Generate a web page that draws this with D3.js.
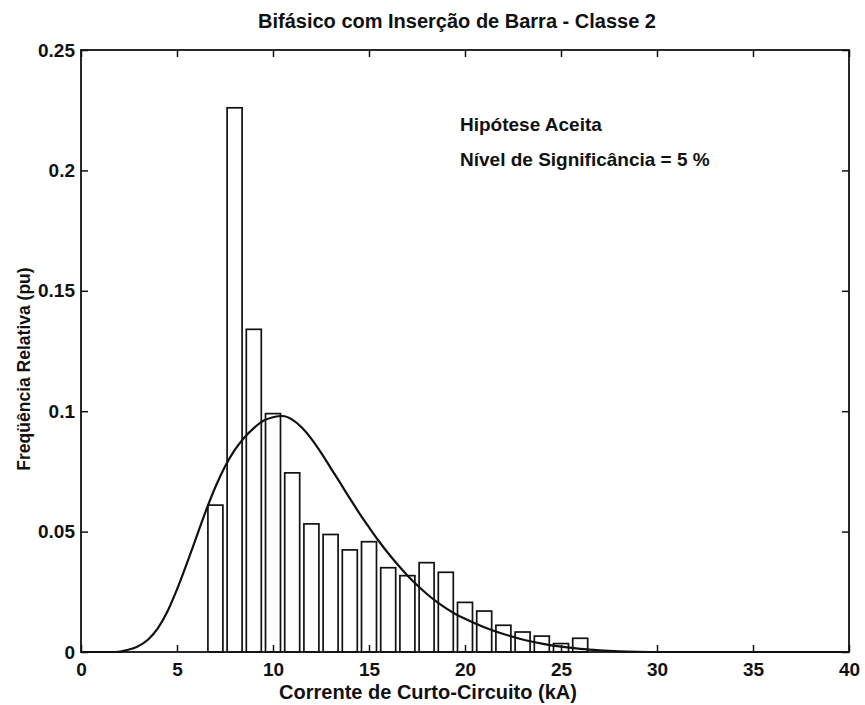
<!DOCTYPE html>
<html lang="pt">
<head>
    <meta charset="UTF-8">
    <title>Bifásico com Inserção de Barra - Classe 2</title>
    <script src="https://d3js.org/d3.v7.min.js"></script>
    <style>
        body { margin: 0; background: #fff; }
        text { font-family: "Liberation Sans", Arial, sans-serif; font-weight: bold; fill: #111; }
    </style>
</head>
<body>
    <div id="chart"></div>

    <script>
        // histograma (centro da classe em kA, frequencia relativa)
        var binCenters = [7, 8, 9, 10, 11, 12, 13, 14, 15, 16, 17, 18, 19, 20, 21, 22, 23, 24, 25, 26];
        var binFreq = [0.061, 0.226, 0.134, 0.099, 0.0744, 0.0532, 0.0488, 0.0424, 0.0458, 0.035,
                       0.0317, 0.0371, 0.0331, 0.0206, 0.017, 0.0111, 0.0083, 0.0066, 0.0035, 0.0057];

        // curva ajustada, lida ponto a ponto do grafico
        var curveX = [0, 1, 1.8, 2.4, 2.9, 3.5, 4, 4.5, 5, 5.5, 6, 6.5, 7, 7.5, 8, 8.5, 9, 9.5, 10, 10.5,
                      11, 11.5, 12, 12.5, 13, 13.5, 14, 14.5, 15, 15.5, 16, 16.5, 17, 17.5, 18, 18.5, 19, 19.5,
                      20, 21, 22, 23, 24, 25, 26, 27, 28, 29, 30, 40];
        var curveY = [0, 0, 0, 0.0008, 0.0021, 0.0052, 0.0098, 0.0168, 0.026, 0.0365, 0.0475, 0.0585, 0.0685, 0.077, 0.0838, 0.089, 0.093, 0.096, 0.0975, 0.098,
                      0.0965, 0.0932, 0.0885, 0.0828, 0.0765, 0.0702, 0.0638, 0.0576, 0.0518, 0.0462, 0.041, 0.0362, 0.0318, 0.0278, 0.0242, 0.021, 0.0182, 0.0158,
                      0.0138, 0.0103, 0.0075, 0.0052, 0.0035, 0.0022, 0.0013, 0.0007, 0.0003, 0.0001, 0, 0];

        var xTicks = [0, 5, 10, 15, 20, 25, 30, 35, 40];
        var yTicks = [0, 0.05, 0.1, 0.15, 0.2, 0.25];
        var yTickLabels = ["0", "0.05", "0.1", "0.15", "0.2", "0.25"];

        var w = 865;
        var h = 705;
        var plotLeft = 81, plotRight = 849, plotTop = 50, plotBottom = 652;
        var barWidth = 0.78;

        var svg = d3.select("#chart").append("svg")
            .attr("width", w)
            .attr("height", h);

        var xScale = d3.scaleLinear()
            .domain([0, 40])
            .range([plotLeft, plotRight]);

        var yScale = d3.scaleLinear()
            .domain([0, 0.25])
            .range([plotBottom, plotTop]);

        // barras
        svg.append("g")
            .selectAll("rect")
            .data(binCenters)
            .enter()
            .append("rect")
            .attr("x", function(d) { return xScale(d - barWidth / 2); })
            .attr("y", function(d, i) { return yScale(binFreq[i]); })
            .attr("width", function(d) { return xScale(d + barWidth / 2) - xScale(d - barWidth / 2); })
            .attr("height", function(d, i) { return yScale(0) - yScale(binFreq[i]); })
            .style("fill", "#fff")
            .style("stroke", "#111")
            .style("stroke-width", 1.7);

        // curva
        var line = d3.line()
            .x(function(d) { return xScale(d); })
            .y(function(d, i) { return yScale(curveY[i]); })
            .curve(d3.curveMonotoneX);

        svg.append("path")
            .datum(curveX)
            .attr("d", line)
            .style("fill", "none")
            .style("stroke", "#111")
            .style("stroke-width", 2.2);

        // eixos com ticks para dentro
        svg.append("g")
            .attr("transform", "translate(0," + plotBottom + ")")
            .call(d3.axisBottom(xScale).tickValues(xTicks).tickSize(-7).tickSizeOuter(0).tickPadding(11))
            .call(function(g) { g.select(".domain").remove(); });

        svg.append("g")
            .attr("transform", "translate(0," + plotTop + ")")
            .call(d3.axisTop(xScale).tickValues(xTicks).tickSize(-7).tickSizeOuter(0).tickFormat(""))
            .call(function(g) { g.select(".domain").remove(); });

        svg.append("g")
            .attr("transform", "translate(" + plotLeft + ",0)")
            .call(d3.axisLeft(yScale).tickValues(yTicks).tickSize(-7).tickSizeOuter(0).tickPadding(6)
                .tickFormat(function(d, i) { return yTickLabels[i]; }))
            .call(function(g) { g.select(".domain").remove(); });

        svg.append("g")
            .attr("transform", "translate(" + plotRight + ",0)")
            .call(d3.axisRight(yScale).tickValues(yTicks).tickSize(-7).tickSizeOuter(0).tickFormat(""))
            .call(function(g) { g.select(".domain").remove(); });

        svg.selectAll(".tick line")
            .style("stroke", "#111")
            .style("stroke-width", 1.5);

        svg.selectAll(".tick text")
            .style("font-size", "19px")
            .style("font-family", "'Liberation Sans', Arial, sans-serif")
            .style("font-weight", "bold")
            .style("fill", "#111");

        svg.append("rect")
            .attr("x", plotLeft)
            .attr("y", plotTop)
            .attr("width", plotRight - plotLeft)
            .attr("height", plotBottom - plotTop)
            .style("fill", "none")
            .style("stroke", "#111")
            .style("stroke-width", 1.8);

        // textos
        svg.append("text")
            .attr("x", 457)
            .attr("y", 28)
            .attr("text-anchor", "middle")
            .style("font-size", "20px")
            .text("Bifásico com Inserção de Barra - Classe 2");

        svg.append("text")
            .attr("x", 428)
            .attr("y", 699)
            .attr("text-anchor", "middle")
            .style("font-size", "20px")
            .text("Corrente de Curto-Circuito (kA)");

        svg.append("text")
            .attr("transform", "translate(30,369) rotate(-90)")
            .attr("text-anchor", "middle")
            .style("font-size", "17.5px")
            .text("Freqüência Relativa (pu)");

        svg.append("text")
            .attr("x", 460)
            .attr("y", 131)
            .style("font-size", "19px")
            .text("Hipótese Aceita");

        svg.append("text")
            .attr("x", 460)
            .attr("y", 166)
            .style("font-size", "19px")
            .text("Nível de Significância = 5 %");
    </script>
</body>
</html>
